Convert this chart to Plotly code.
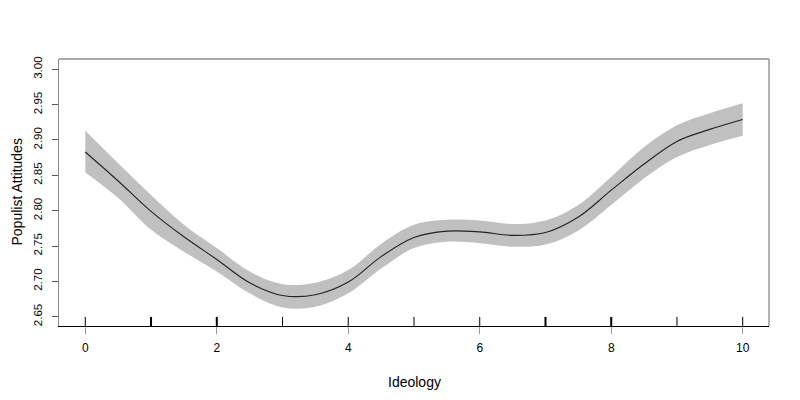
import plotly.graph_objects as go

ideology = [0, 0.5, 1, 1.5, 2, 2.5, 3, 3.5, 4, 4.5, 5, 5.5, 6, 6.5, 7, 7.5, 8, 8.5, 9, 9.5, 10]
fit = [2.883, 2.842, 2.799, 2.763, 2.731, 2.698, 2.680, 2.681, 2.699, 2.735, 2.762,
       2.771, 2.770, 2.765, 2.769, 2.791, 2.829, 2.866, 2.898, 2.915, 2.929]
upper = [2.913, 2.867, 2.822, 2.780, 2.747, 2.714, 2.696, 2.698, 2.716, 2.753, 2.780,
         2.787, 2.786, 2.781, 2.786, 2.808, 2.848, 2.890, 2.921, 2.938, 2.952]
lower = [2.854, 2.818, 2.773, 2.742, 2.714, 2.683, 2.663, 2.664, 2.683, 2.718, 2.747,
         2.756, 2.754, 2.749, 2.752, 2.772, 2.808, 2.846, 2.876, 2.893, 2.906]

rug_x = [0, 1, 2, 3, 4, 5, 6, 7, 8, 9, 10]
rug_w = [1, 2, 2, 1, 1, 1, 1, 2, 2, 1, 1]

x_ticks = [0, 2, 4, 6, 8, 10]
y_ticks = [2.65, 2.70, 2.75, 2.80, 2.85, 2.90, 2.95, 3.00]

fig = go.Figure()
fig.add_trace(go.Scatter(x=ideology, y=lower, mode="lines", line=dict(width=0, shape="spline"),
                         hoverinfo="skip", showlegend=False))
fig.add_trace(go.Scatter(x=ideology, y=upper, mode="lines", line=dict(width=0, shape="spline"),
                         fill="tonexty", fillcolor="#c0c0c0", hoverinfo="skip", showlegend=False))
fig.add_trace(go.Scatter(x=ideology, y=fit, mode="lines",
                         line=dict(color="#222222", width=1.1, shape="spline"), showlegend=False))

shapes = []
for xv, w in zip(rug_x, rug_w):
    shapes.append(dict(type="line", xref="x", yref="paper", x0=xv, x1=xv, y0=0, y1=0.034,
                       line=dict(color="black", width=w), layer="above"))
# box (gray) top and right
shapes.append(dict(type="line", xref="paper", yref="paper", x0=0, x1=1, y0=1, y1=1,
                   line=dict(color="#8a8a8a", width=1.3)))
shapes.append(dict(type="line", xref="paper", yref="paper", x0=1, x1=1, y0=0, y1=1,
                   line=dict(color="#8a8a8a", width=1.3)))

font = "Liberation Sans, Arial, sans-serif"
fig.update_layout(
    width=800, height=400,
    margin=dict(l=51, r=39, t=51, b=82, autoexpand=False),
    paper_bgcolor="white", plot_bgcolor="white",
    shapes=shapes,
    font=dict(family=font, color="black"),
    xaxis=dict(range=[-0.4, 10.4], tickvals=x_ticks, ticks="outside", ticklen=7,
               tickcolor="#999999", tickwidth=1, showgrid=False, zeroline=False,
               showline=True, linecolor="black", linewidth=1.3, mirror=False,
               tickfont=dict(size=12), ticklabelstandoff=3, automargin=False),
    yaxis=dict(range=[2.6368, 3.0146], tickvals=y_ticks, ticktext=[f"{v:.2f}" for v in y_ticks],
               ticks="outside", ticklen=6, tickcolor="#555555", tickwidth=1,
               showgrid=False, zeroline=False, showline=True, linecolor="#8a8a8a",
               linewidth=1.3, mirror=False, tickangle=-90, tickfont=dict(size=11.5),
               ticklabelstandoff=5, automargin=False),
    annotations=[
        dict(text="Ideology", xref="paper", yref="paper", x=0.5, y=0, yshift=-56,
             showarrow=False, font=dict(size=14), xanchor="center", yanchor="middle"),
        dict(text="Populist Attitudes", xref="paper", yref="paper", x=0, y=0.5, xshift=-43,
             showarrow=False, font=dict(size=14), textangle=-90,
             xanchor="center", yanchor="middle"),
    ],
)

fig.write_html("out.html")
